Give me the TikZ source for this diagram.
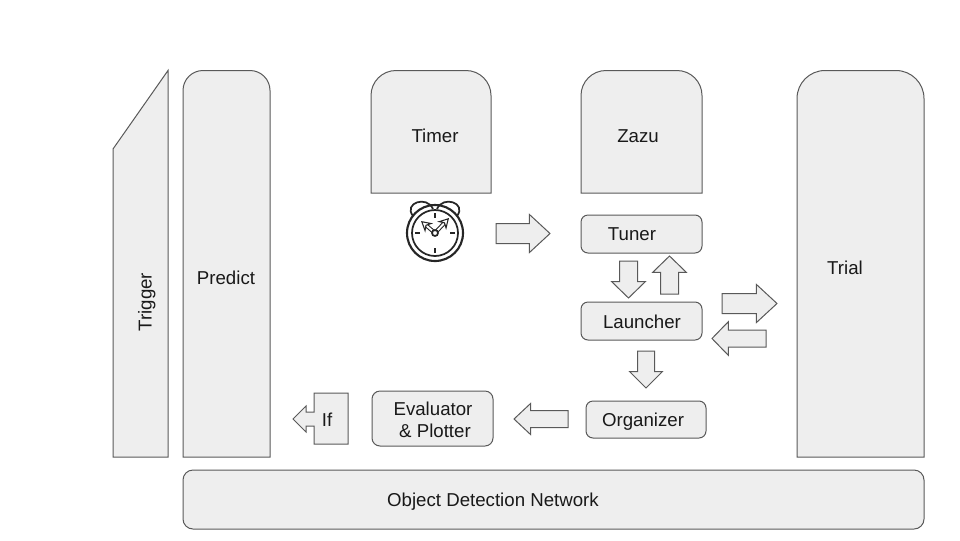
\documentclass[tikz,border=0pt]{standalone}
\usepackage{fontspec}
\setmainfont{Liberation Sans}
\usetikzlibrary{shapes.arrows, arrows.meta}
\definecolor{panelfill}{HTML}{EEEEEE}
\definecolor{panelline}{HTML}{595959}
\tikzset{
  panel/.style={draw=panelline, fill=panelfill, line width=0.75pt},
  tag/.style={font=\fontsize{14}{17}\selectfont, text=black!90, inner sep=0pt},
  % length, head width, shaft width, head length
  blockarrow/.style n args={4}{panel, shape=single arrow, inner xsep=0pt, inner ysep=#3*0.375pt,
    minimum height=#1*0.75pt, single arrow head extend=#2*0.375pt-#3*0.375pt,
    single arrow tip angle={2*atan(#2/(2*#4))}, single arrow head indent=0pt, outer sep=0pt, anchor=tail},
  clockline/.style={draw=black!85, line width=1.3pt},
}
\begin{document}
\begin{tikzpicture}[x=0.75pt, y=-0.75pt]
  \useasboundingbox (0, 0) rectangle (960, 540);

  % Tall shapes, round on top only
  \foreach \xa/\xb/\ya/\yb/\rad in {183/270/70.5/457/20, 371/491/70.5/193/25, 581/702/70.5/193/25, 797/924/70.5/457/28} {
    \draw[panel] (\xa, \yb) [rounded corners=\rad*0.75pt] -- (\xa, \ya) -- (\xb, \ya) [sharp corners] -- (\xb, \yb) -- cycle;
  }
  \draw[panel] (113, 149) -- (168, 70.5) -- (168, 457) -- (113, 457) -- cycle;

  % Rounded boxes
  \foreach \xa/\xb/\ya/\yb/\rad in {581/702/215/253/7, 581/702/302/340/7, 586/706/401/438/7, 372/493/391/446/8, 183/924/470/529/10} {
    \draw[panel, rounded corners=\rad*0.75pt] (\xa, \ya) rectangle (\xb, \yb);
  }

  % If box
  \draw[panel] (348, 393) -- (348, 444) -- (314, 444) -- (314, 426) -- (306, 426) -- (306, 432)
    -- (293, 419) -- (306, 406) -- (306, 412) -- (314, 412) -- (314, 393) -- cycle;

  % Block arrows
  \foreach \name/\cx/\cy/\turn/\len/\hw/\sw/\hl in {
    clockarrow/496/233.5/0/54/37/19/20, tunerdown/628.5/261/-90/37/33/17/16,
    tunerup/669.5/294/90/38/33/17/16, launcherdown/646/351/-90/37/32/16/16,
    trialin/722/303.5/0/55/37/19/20, trialout/766/338.5/180/54/33/16/16,
    organizerout/568/419/180/54/30/16/16} {
    \node[blockarrow={\len}{\hw}{\sw}{\hl}, rotate=\turn] (\name) at (\cx, \cy) {};
  }

  % Texts
  \foreach \name/\cx/\cy/\txt in {timer/435/138/Timer, zazu/638/138/Zazu, tuner/632/236/Tuner,
    launcher/642/324/Launcher, organizer/643/422/Organizer, predict/226/280/Predict,
    trial/845/270/Trial, iftext/327/422/If, evaluator/433/411/Evaluator, plotter/435/433/\& Plotter,
    network/493/502/Object Detection Network} {
    \node[tag] (\name) at (\cx, \cy) {\strut\txt};
  }
  \node[tag, rotate=90] (trigger) at (147, 302) {\strut Trigger};

  % Alarm clock
  \begin{scope}[shift={(435, 233)}]
    \draw[clockline, line width=1.6pt] (0, 0) circle (28);
    \draw[clockline] (0, 0) circle (23);
    \draw[clockline] (-22, -17) .. controls (-32, -30) and (-8, -38) .. (-2, -24);
    \draw[clockline] (22, -17) .. controls (32, -30) and (8, -38) .. (2, -24);
    \foreach \xa/\ya/\xb/\yb in {0/-20/0/-15, 0/20/0/15, -20/0/-15/0, 20/0/15/0} {
      \draw[clockline, line width=1.8pt] (\xa, \ya) -- (\xb, \yb);
    }
    \draw[clockline, line width=0.8pt, double=white, double distance=1.4pt, -{Stealth[length=8pt, width=9pt, open, fill=white]}] (0, 0) -- (-14, -12);
    \draw[clockline, line width=0.8pt, double=white, double distance=1.4pt, -{Stealth[length=8pt, width=9pt, open, fill=white]}] (0, 0) -- (14, -15);
    \draw[clockline, fill=white] (0, 0) circle (3);
  \end{scope}
\end{tikzpicture}
\end{document}
